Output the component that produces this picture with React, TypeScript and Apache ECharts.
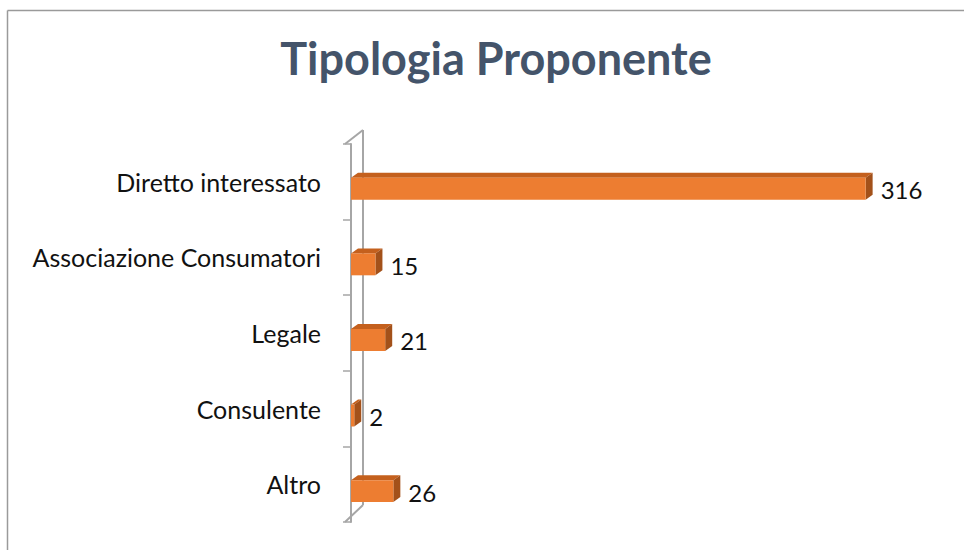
import React, { useEffect, useRef } from "react";
import * as echarts from "echarts";

const categories = ["Diretto interessato", "Associazione Consumatori", "Legale", "Consulente", "Altro"];
const values = [316, 15, 21, 2, 26];
const axisMax = 350;
const titleText = "Tipologia Proponente";

const FONT = "Lato, 'Open Sans', sans-serif";

export default function App() {
  const ref = useRef<HTMLDivElement>(null);
  useEffect(() => {
    if (!ref.current) return;
    const chart = echarts.init(ref.current, null, { renderer: "svg" });
    const DX = 7;
    const DY = 5;
    const borderStyle = { stroke: "#9a9a9a", lineWidth: 1.5 };
    chart.setOption({
      animation: false,
      backgroundColor: "#ffffff",
      title: {
        text: titleText,
        left: "center",
        top: 30,
        textStyle: { fontFamily: FONT, fontWeight: "bold", fontSize: 45, color: "#44546A" },
      },
      graphic: [
        {
          type: "line",
          shape: { x1: 7.5, y1: 10.5, x2: 992, y2: 10.5 },
          style: borderStyle,
          silent: true,
          z: -10,
        },
        {
          type: "line",
          shape: { x1: 7.5, y1: 10.5, x2: 7.5, y2: 570 },
          style: borderStyle,
          silent: true,
          z: -10,
        },
      ],
      grid: { left: 351, top: 144, width: 570, height: 378 },
      xAxis: { type: "value", min: 0, max: axisMax, show: false },
      yAxis: {
        type: "category",
        data: categories,
        inverse: true,
        offset: 6,
        axisLine: { show: true, lineStyle: { color: "#a6a6a6", width: 2 } },
        axisTick: { show: true, length: 8, lineStyle: { color: "#a6a6a6", width: 1.5 } },
        axisLabel: {
          margin: 24,
          fontFamily: FONT,
          fontSize: 25,
          color: "#111111",
          padding: [8, 0, 0, 0],
        },
      },
      series: [
        {
          type: "custom",
          name: "wall",
          silent: true,
          z: 1,
          data: [[0, 0]],
          renderItem: (params: any) => {
            const cs = params.coordSys;
            const fx = cs.x - 6;
            const bx = cs.x + 12;
            const top = cs.y;
            const bot = cs.y + cs.height;
            const st = { stroke: "#a6a6a6", lineWidth: 2, fill: "none" };
            return {
              type: "group",
              children: [
                { type: "line", shape: { x1: bx, y1: top - 14, x2: bx, y2: bot - 17 }, style: st },
                { type: "line", shape: { x1: fx, y1: top, x2: bx, y2: top - 14 }, style: st },
                { type: "line", shape: { x1: fx, y1: bot, x2: bx, y2: bot - 17 }, style: st },
              ],
            };
          },
        },
        {
          type: "custom",
          name: "Tipologia Proponente",
          z: 2,
          data: values.map((v, i) => [v, i]),
          renderItem: (params: any, api: any) => {
            const v = api.value(0);
            const idx = api.value(1);
            const end = api.coord([v, idx]);
            const start = api.coord([0, idx]);
            const band = api.size([0, 1])[1];
            const h = band * 0.29;
            const cy = end[1] + band * 0.092;
            const yt = cy - h / 2;
            const yb = cy + h / 2;
            const x0 = start[0];
            const x1 = end[0];
            return {
              type: "group",
              children: [
                {
                  type: "polygon",
                  shape: { points: [[x0, yt], [x1, yt], [x1 + DX, yt - DY], [x0 + DX, yt - DY]] },
                  style: { fill: "#C4601D" },
                },
                {
                  type: "polygon",
                  shape: { points: [[x1, yt], [x1 + DX, yt - DY], [x1 + DX, yb - DY], [x1, yb]] },
                  style: { fill: "#A3511A" },
                },
                {
                  type: "rect",
                  shape: { x: x0, y: yt, width: x1 - x0, height: h },
                  style: { fill: "#ED7D31" },
                },
                {
                  type: "text",
                  x: x1 + DX + 8,
                  y: cy + 1,
                  style: {
                    text: String(v),
                    fontFamily: FONT,
                    fontSize: 24,
                    fill: "#111111",
                    align: "left",
                    verticalAlign: "middle",
                  },
                },
              ],
            };
          },
        },
      ],
    });
    return () => chart.dispose();
  }, []);
  return (
    <div style={{ position: "fixed", left: 0, top: 0, width: 964, height: 550, overflow: "hidden", background: "#fff" }}>
      <div ref={ref} style={{ width: 992, height: 570 }} />
    </div>
  );
}
